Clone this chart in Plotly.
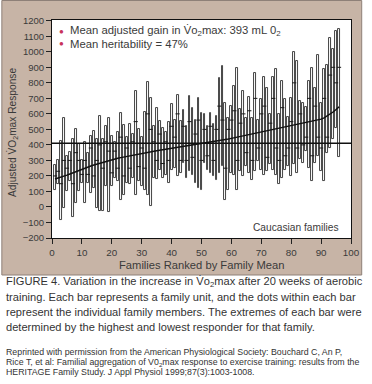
import plotly.graph_objects as go

# ---- data ----
families = list(range(1, 97))
low = [112,150,-82,-6,100,166,-65,26,100,155,
       26,155,90,120,-6,-28,-28,133,-32,133,
       187,166,47,80,155,145,187,80,166,133,
       112,80,9,187,180,241,187,209,155,241,
       252,198,220,284,187,230,209,155,120,112,
       284,241,220,198,177,220,263,47,112,220,
       209,112,230,198,263,220,177,230,295,241,
       209,230,274,241,209,145,187,241,263,198,
       274,220,306,284,360,252,166,284,328,230,
       166,349,381,435,510,323]
high = [269,300,425,575,330,356,440,500,403,300,
        418,349,457,489,440,586,435,525,571,460,
        420,480,607,527,450,536,470,745,500,450,
        614,803,700,520,640,553,510,480,549,666,
        560,722,553,622,520,715,640,560,702,607,
        601,520,607,532,586,834,909,672,575,650,
        780,898,629,747,575,711,575,862,560,698,
        838,769,600,838,888,597,812,694,579,700,
        1000,941,683,672,644,812,898,769,978,672,
        888,915,1086,1021,1135,1146]
family_mean = [180,185,192,198,205,212,220,228,236,244,
               252,258,264,270,276,282,288,294,300,305,
               310,314,318,322,326,330,334,338,342,346,
               350,353,356,359,362,365,368,371,374,377,
               380,383,386,389,392,395,398,401,404,407,
               410,413,416,419,422,426,430,434,438,442,
               446,450,454,458,462,466,470,474,478,482,
               486,490,494,498,502,506,510,514,518,522,
               526,530,534,538,542,546,550,555,560,566,
               574,585,598,612,628,645]
member_mid = [200,230,150,300,250,300,150,350,300,210,
              300,210,380,200,300,400,250,420,360,220,
              360,250,450,200,380,250,420,550,260,380,
              250,600,500,420,300,470,280,420,300,520,
              450,600,300,520,300,550,320,470,560,300,
              500,330,520,300,500,650,560,250,500,560,
              620,300,540,600,350,620,300,700,380,600,
              650,320,540,700,380,300,640,330,380,550,
              800,380,600,400,450,700,330,650,450,380,
              700,450,850,900,800,900]
overall_mean_line = 410
x_ticks = [0, 10, 20, 30, 40, 50, 60, 70, 80, 90, 100]
y_ticks = [-200, -100, 0, 100, 200, 300, 400, 500, 600, 700, 800, 900, 1000, 1100, 1200]

FONT = "Liberation Sans, Arial, sans-serif"
TXT = "#3a3a3a"

# plot area in pixels
L, R, T, B = 52, 359, 20, 238
W, H = 372, 384

def px(xp):
    return (xp - L) / (R - L)

def py(yp):
    return (B - yp) / (B - T)

fig = go.Figure()
fig.add_trace(go.Bar(
    x=families, y=[h - l for h, l in zip(high, low)], base=low, width=0.62,
    marker=dict(color="white", line=dict(color="#2e2e2e", width=0.9)),
    hoverinfo="skip", showlegend=False))
fig.add_trace(go.Scatter(
    x=families, y=member_mid, mode="markers",
    marker=dict(symbol="line-ew", size=3, line=dict(color="#1a1a1a", width=1)),
    showlegend=False, hoverinfo="skip"))
fig.add_trace(go.Scatter(
    x=families, y=family_mean, mode="lines",
    line=dict(color="#111", width=1.5), showlegend=False, hoverinfo="skip"))

shapes = [
    dict(type="rect", xref="paper", yref="paper", x0=px(0.5), x1=px(370), y0=py(275), y1=py(0.5),
         fillcolor="#c7b4a6", line=dict(color="#8e8078", width=1), layer="below"),
    dict(type="rect", xref="paper", yref="paper", x0=0, x1=1, y0=0, y1=1,
         fillcolor="white", line=dict(width=0), layer="below"),
    dict(type="line", xref="paper", yref="y", x0=0, x1=1, y0=overall_mean_line, y1=overall_mean_line,
         line=dict(color="#111", width=1.5)),
]

ann = []
def txt(x, y, s, size, xa="left", ya="middle", angle=0, color=TXT):
    ann.append(dict(xref="paper", yref="paper", x=px(x), y=py(y), text=s, showarrow=False,
                    xanchor=xa, yanchor=ya, textangle=angle,
                    font=dict(family=FONT, size=size, color=color)))

# legend-like notes
for yy in (31, 43):
    ann.append(dict(xref="paper", yref="paper", x=px(62), y=py(yy), text="●", showarrow=False,
                    xanchor="center", yanchor="middle", font=dict(size=8, color="#c8345a")))
txt(68, 31, "Mean adjusted gain in V̇o<sub>2</sub>max: 393 mL 0<sub>2</sub>", 11.3)
txt(68, 44, "Mean heritability = 47%", 11.3)
txt(349, 227, "Caucasian families", 10.2, xa="right")
txt(205, 265, "Families Ranked by Family Mean", 11.2, xa="center")
txt(12, 133, "Adjusted V̇O<sub>2</sub>max Response", 10.2, xa="center", angle=-90)

caption = [
    "FIGURE 4. Variation in the increase in V̇o<sub>2</sub>max after 20 weeks of aerobic",
    "training. Each bar represents a family unit, and the dots within each bar",
    "represent the individual family members. The extremes of each bar were",
    "determined by the highest and lowest responder for that family.",
]
for i, line in enumerate(caption):
    txt(3, 282 + 15 * i, line, 11.1, color="#333")

credit = [
    "Reprinted with permission from the American Physiological Society: Bouchard C, An P,",
    "Rice T, et al: Familial aggregation of V0<sub>2</sub>max response to exercise training: results from the",
    "HERITAGE Family Study. J Appl Physiol 1999;87(3):1003-1008.",
]
for i, line in enumerate(credit):
    txt(3, 352 + 10 * i, line, 8.8, color="#333")

fig.update_layout(
    width=W, height=H, autosize=False,
    margin=dict(l=L, r=W - R, t=T, b=H - B, pad=0),
    paper_bgcolor="white", plot_bgcolor="white",
    barmode="overlay", bargap=0,
    shapes=shapes, annotations=ann, showlegend=False,
    font=dict(family=FONT, color=TXT),
)
fig.update_xaxes(range=[0, 100], tickvals=x_ticks, ticks="outside", ticklen=5, tickcolor="#222",
                 showline=True, mirror=True, linecolor="#111", linewidth=1, showgrid=False,
                 zeroline=False, tickfont=dict(family=FONT, size=9.8, color=TXT))
fig.update_yaxes(range=[-200, 1205], tickvals=y_ticks, ticks="outside", ticklen=5, tickcolor="#222",
                 showline=True, mirror=True, linecolor="#111", linewidth=1, showgrid=False,
                 zeroline=False, tickfont=dict(family=FONT, size=9.5, color=TXT))

fig.write_html("out.html", config={"displayModeBar": False},
               post_script="document.body.style.margin='0';document.body.style.overflow='hidden';")
